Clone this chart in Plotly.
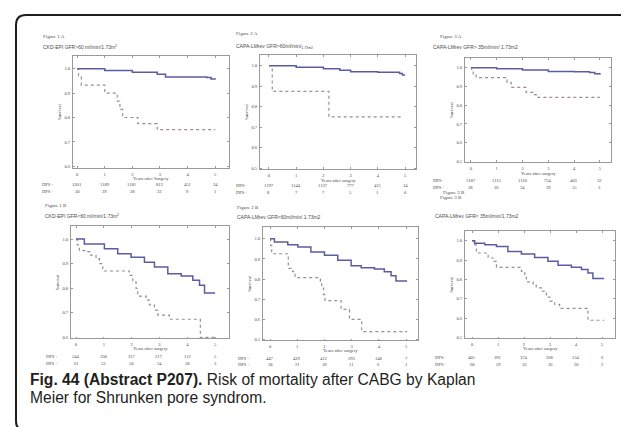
import plotly.graph_objects as go

W, H = 629, 427

years = [0, 1, 2, 3, 4, 5]

# ---------- Figure 1 A ----------
p1a_neg_t = [0, 1.0, 2.0, 2.9, 3.2, 4.7, 4.85, 5.0]
p1a_neg_s = [1.0, 0.993, 0.985, 0.977, 0.966, 0.964, 0.958, 0.956]
p1a_pos_t = [0, 0.05, 0.15, 1.0, 1.45, 1.55, 1.65, 2.2, 2.9, 5.0]
p1a_pos_s = [1.0, 0.967, 0.933, 0.9, 0.867, 0.833, 0.8, 0.775, 0.75, 0.75]
p1a_risk_neg = ["1201", "1189", "1181", "813", "451", "34"]
p1a_risk_pos = ["30", "29", "28", "22", "9", "1"]

# ---------- Figure 2 A ----------
p2a_neg_t = [0, 1.0, 2.0, 2.6, 3.0, 4.0, 4.8, 4.9, 5.0]
p2a_neg_s = [1.0, 0.992, 0.985, 0.978, 0.97, 0.968, 0.962, 0.955, 0.955]
p2a_pos_t = [0, 0.12, 2.2, 4.85]
p2a_pos_s = [1.0, 0.875, 0.75, 0.75]
p2a_risk_neg = ["1197", "1144", "1137", "777", "415", "34"]
p2a_risk_pos = ["8", "7", "7", "5", "1", "0"]

# ---------- Figure 3 A ----------
p3a_neg_t = [0, 1.0, 2.0, 3.0, 4.0, 4.6, 4.8, 5.0]
p3a_neg_s = [1.0, 0.995, 0.988, 0.98, 0.978, 0.975, 0.968, 0.963]
p3a_pos_t = [0, 0.03, 0.09, 0.2, 1.4, 1.56, 2.14, 2.4, 2.53, 5.0]
p3a_pos_s = [1.0, 0.977, 0.96, 0.947, 0.921, 0.895, 0.868, 0.856, 0.842, 0.842]
p3a_risk_neg = ["1107", "1115", "1110", "754", "403", "32"]
p3a_risk_pos = ["38", "36", "34", "29", "15", "3"]

# ---------- Figure 1 B ----------
p1b_neg_t = [0, 0.3, 1.02, 1.5, 1.98, 2.46, 2.82, 3.3, 3.78, 4.2, 4.44, 4.62, 5.0]
p1b_neg_s = [1.0, 0.98, 0.96, 0.94, 0.926, 0.906, 0.886, 0.859, 0.85, 0.832, 0.812, 0.781, 0.781]
p1b_pos_t = [0, 0.04, 0.12, 0.42, 0.54, 0.72, 0.84, 0.96, 1.92, 2.04, 2.16, 2.22, 2.52,
             2.64, 2.82, 2.94, 3.36, 4.47, 5.0]
p1b_pos_s = [1.0, 0.976, 0.953, 0.949, 0.933, 0.92, 0.9, 0.87, 0.852, 0.826, 0.799, 0.768,
             0.752, 0.732, 0.711, 0.691, 0.674, 0.6, 0.6]
p1b_risk_neg = ["544", "330", "317", "217", "112", "5"]
p1b_risk_pos = ["61", "53", "50", "34", "18", "3"]

# ---------- Figure 2 B ----------
p2b_neg_t = [0, 0.16, 0.65, 1.02, 1.5, 2.0, 2.49, 2.98, 3.35, 3.84, 4.2, 4.45, 4.63, 5.04]
p2b_neg_s = [1.0, 0.984, 0.971, 0.959, 0.935, 0.918, 0.894, 0.866, 0.856, 0.85, 0.837,
             0.817, 0.791, 0.791]
p2b_pos_t = [0, 0.02, 0.06, 0.67, 0.83, 0.92, 1.85, 1.9, 1.97, 2.02, 2.61, 2.92, 3.37, 5.04]
p2b_pos_s = [1.0, 0.967, 0.926, 0.853, 0.837, 0.807, 0.788, 0.755, 0.722, 0.693, 0.649,
             0.6, 0.539, 0.539]
p2b_risk_neg = ["447", "429", "412", "293", "148", "7"]
p2b_risk_pos = ["38", "21", "18", "11", "6", "1"]

# ---------- Figure 3 B ----------
p3b_neg_t = [0, 0.1, 0.49, 0.94, 1.38, 1.9, 2.41, 2.92, 3.31, 3.82, 4.21, 4.46, 4.65, 5.08]
p3b_neg_s = [1.0, 0.988, 0.979, 0.971, 0.945, 0.932, 0.914, 0.894, 0.873, 0.863, 0.851,
             0.834, 0.805, 0.805]
p3b_pos_t = [0, 0.1, 0.17, 0.62, 0.81, 0.94, 1.9, 2.03, 2.09, 2.35, 2.47, 2.67, 2.86,
             2.99, 3.18, 3.37, 4.46, 5.08]
p3b_pos_s = [1.0, 0.979, 0.937, 0.911, 0.894, 0.863, 0.842, 0.817, 0.788, 0.777, 0.757,
             0.74, 0.709, 0.688, 0.671, 0.651, 0.589, 0.589]
p3b_risk_neg = ["405", "391", "374", "268", "134", "6"]
p3b_risk_pos = ["68", "59", "56", "36", "20", "2"]

panel_labels = ["Figure 1 A", "Figure 2 A", "Figure 3 A", "Figure 1 B", "Figure 2 B", "Figure 3 B"]
panel_titles = [
    "CKD-EPI GFR>60 ml/min/1.73m<sup>2</sup>",
    "CAPA-LMrev GFR>60ml/min/<sub>1.73m2</sub>",
    "CAPA-LMrev GFR> 35ml/min/ 1.73m2",
    "CKD-EPI GFR<60 ml/min/1.73m<sup>2</sup>",
    "CAPA-LMrev GFR<60ml/min/ 1.73m2",
    "CAPA-LMrev GFR< 35ml/min/1.73m2",
]
x_titles = ["Years after Surgery", "Years after surgery", "Years after surgery",
            "Years after surgery", "Years after surgery", "Years after surgery"]
row_labels = [("DPS -", "DPS +"), ("DPS-", "DPS+"), ("DPS-", "DPS+"),
              ("DPS -", "DPS +"), ("DPS -", "DPS +"), ("DPS-", "DPS+")]

neg_t = [p1a_neg_t, p2a_neg_t, p3a_neg_t, p1b_neg_t, p2b_neg_t, p3b_neg_t]
neg_s = [p1a_neg_s, p2a_neg_s, p3a_neg_s, p1b_neg_s, p2b_neg_s, p3b_neg_s]
pos_t = [p1a_pos_t, p2a_pos_t, p3a_pos_t, p1b_pos_t, p2b_pos_t, p3b_pos_t]
pos_s = [p1a_pos_s, p2a_pos_s, p3a_pos_s, p1b_pos_s, p2b_pos_s, p3b_pos_s]
risk_neg = [p1a_risk_neg, p2a_risk_neg, p3a_risk_neg, p1b_risk_neg, p2b_risk_neg, p3b_risk_neg]
risk_pos = [p1a_risk_pos, p2a_risk_pos, p3a_risk_pos, p1b_risk_pos, p2b_risk_pos, p3b_risk_pos]

# ---------- layout geometry (pixels) ----------
geo = [
    dict(box=(65, 221, 48, 161), xr=(-0.15, 5.5), yr=(0.592, 1.053), ymin=0.6,
         lab=(33, 29), tit=(33, 39), xt_y=171, r1=177, r2=184, rl=32),
    dict(box=(252, 408, 47, 162), xr=(-0.33, 5.4), yr=(0.495, 1.053), ymin=0.5,
         lab=(226, 26), tit=(226, 39), xt_y=173, r1=178, r2=185, rl=226),
    dict(box=(457, 603, 50, 155), xr=(-0.23, 5.43), yr=(0.495, 1.053), ymin=0.5,
         lab=(430, 29), tit=(423, 39), xt_y=166, r1=173, r2=180, rl=423),
    dict(box=(63, 221, 219, 332), xr=(-0.18, 5.5), yr=(0.596, 1.053), ymin=0.6,
         lab=(35, 198), tit=(35, 209), xt_y=342, r1=350, r2=357, rl=36),
    dict(box=(255, 410, 220, 334), xr=(-0.26, 5.44), yr=(0.495, 1.059), ymin=0.5,
         lab=(227, 200), tit=(227, 210), xt_y=344, r1=352, r2=358, rl=228),
    dict(box=(457, 607, 224, 332), xr=(-0.27, 5.5), yr=(0.495, 1.051), ymin=0.5,
         lab=(430, 190), tit=(425, 209), xt_y=342, r1=351, r2=358, rl=425),
]


def px(x):
    return x / W


def py(y):
    return 1 - y / H


SOLID = "#5c5ca3"
DASH = "#a08c8c"
BOX = "#9a9a9a"
TXT = "#4a4a4a"
SMALL = "Liberation Sans"
SERIF = "Liberation Serif"
TINY = 4.6

fig = go.Figure()
annotations = []
layout_axes = {}

for i in range(6):
    g = geo[i]
    n = i + 1
    xa = "x" if n == 1 else f"x{n}"
    ya = "y" if n == 1 else f"y{n}"
    fig.add_trace(go.Scatter(x=pos_t[i], y=pos_s[i], mode="lines", line_shape="hv",
                             line=dict(color=DASH, width=1.2, dash="dot"),
                             xaxis=xa, yaxis=ya, showlegend=False, hoverinfo="skip"))
    fig.add_trace(go.Scatter(x=neg_t[i], y=neg_s[i], mode="lines", line_shape="hv",
                             line=dict(color=SOLID, width=1.5),
                             xaxis=xa, yaxis=ya, showlegend=False, hoverinfo="skip"))
    l, r, t, b = g["box"]
    yticks = [round(1.0 - 0.1 * k, 1) for k in range(6) if 1.0 - 0.1 * k >= g["ymin"] - 1e-9]
    layout_axes["xaxis" if n == 1 else f"xaxis{n}"] = dict(
        domain=[px(l), px(r)], range=list(g["xr"]), anchor=ya,
        tickvals=years, ticktext=[str(v) for v in years],
        showline=True, linecolor=BOX, linewidth=0.8, mirror="ticks",
        ticks="inside", ticklen=2, tickcolor=BOX, tickwidth=0.6,
        showgrid=False, zeroline=False, fixedrange=True,
        tickfont=dict(size=TINY, color=TXT, family=SERIF), ticklabelstandoff=1)
    layout_axes["yaxis" if n == 1 else f"yaxis{n}"] = dict(
        domain=[py(b), py(t)], range=list(g["yr"]), anchor=xa,
        tickvals=yticks, ticktext=[f"{v:.1f}" for v in yticks],
        showline=True, linecolor=BOX, linewidth=0.8, mirror="ticks",
        ticks="inside", ticklen=2, tickcolor=BOX, tickwidth=0.6,
        showgrid=False, zeroline=False, fixedrange=True,
        tickfont=dict(size=TINY, color=TXT, family=SERIF), ticklabelstandoff=1,
        title=dict(text="Survival", standoff=2, font=dict(size=TINY, color=TXT, family=SERIF)))

    annotations.append(dict(x=(px(l) + px(r)) / 2, xref="paper", y=py(g["xt_y"]), yref="paper",
                            text=x_titles[i], showarrow=False,
                            font=dict(size=TINY, color=TXT, family=SERIF),
                            xanchor="center", yanchor="middle"))
    annotations.append(dict(x=px(g["lab"][0]), xref="paper", y=py(g["lab"][1]), yref="paper",
                            text=panel_labels[i], showarrow=False,
                            font=dict(size=5, color=TXT, family=SERIF),
                            xanchor="left", yanchor="middle"))
    annotations.append(dict(x=px(g["tit"][0]), xref="paper", y=py(g["tit"][1]), yref="paper",
                            text=panel_titles[i], showarrow=False,
                            font=dict(size=5, color=TXT, family=SMALL),
                            xanchor="left", yanchor="middle"))
    annotations.append(dict(x=px(g["rl"]), xref="paper", y=py(g["r1"]), yref="paper",
                            text=row_labels[i][0], showarrow=False,
                            font=dict(size=TINY, color=TXT, family=SERIF),
                            xanchor="left", yanchor="middle"))
    annotations.append(dict(x=px(g["rl"]), xref="paper", y=py(g["r2"]), yref="paper",
                            text=row_labels[i][1], showarrow=False,
                            font=dict(size=TINY, color=TXT, family=SERIF),
                            xanchor="left", yanchor="middle"))
    for k, v in enumerate(years):
        annotations.append(dict(x=v, xref=xa, y=py(g["r1"]), yref="paper",
                                text=risk_neg[i][k], showarrow=False,
                                font=dict(size=TINY, color=TXT, family=SERIF),
                                xanchor="center", yanchor="middle"))
        annotations.append(dict(x=v, xref=xa, y=py(g["r2"]), yref="paper",
                                text=risk_pos[i][k], showarrow=False,
                                font=dict(size=TINY, color=TXT, family=SERIF),
                                xanchor="center", yanchor="middle"))

# stray "Figure 3 B" label under the Figure 3 A table
annotations.append(dict(x=px(433), xref="paper", y=py(185), yref="paper",
                        text="Figure 3 B", showarrow=False,
                        font=dict(size=5, color=TXT, family=SERIF),
                        xanchor="left", yanchor="middle"))

# caption (two lines)
CAP = 15.6
annotations.append(dict(x=px(20), xref="paper", y=py(373), yref="paper",
                        text="<b>Fig. 44 (Abstract P207).</b> Risk of mortality after CABG by Kaplan",
                        showarrow=False, align="left",
                        font=dict(size=CAP, color="#231f20", family="Liberation Sans"),
                        xanchor="left", yanchor="middle"))
annotations.append(dict(x=px(20), xref="paper", y=py(391), yref="paper",
                        text="Meier for Shrunken pore syndrom.",
                        showarrow=False, align="left",
                        font=dict(size=CAP, color="#231f20", family="Liberation Sans"),
                        xanchor="left", yanchor="middle"))

# rounded frame
L, T, R, B, rad = 8, 7, 630, 425, 10
frame = (f"M {px(L + rad)},{py(T)} L {px(R - rad)},{py(T)} "
         f"Q {px(R)},{py(T)} {px(R)},{py(T + rad)} L {px(R)},{py(B - rad)} "
         f"Q {px(R)},{py(B)} {px(R - rad)},{py(B)} L {px(L + rad)},{py(B)} "
         f"Q {px(L)},{py(B)} {px(L)},{py(B - rad)} L {px(L)},{py(T + rad)} "
         f"Q {px(L)},{py(T)} {px(L + rad)},{py(T)} Z")

fig.update_layout(
    width=W, height=H, autosize=False,
    margin=dict(l=0, r=0, t=0, b=0),
    paper_bgcolor="white", plot_bgcolor="white",
    annotations=annotations,
    shapes=[dict(type="path", path=frame, xref="paper", yref="paper",
                 line=dict(color="#1e1e1e", width=2), fillcolor="rgba(0,0,0,0)", layer="below")],
    **layout_axes,
)

fig.write_html("out.html")
